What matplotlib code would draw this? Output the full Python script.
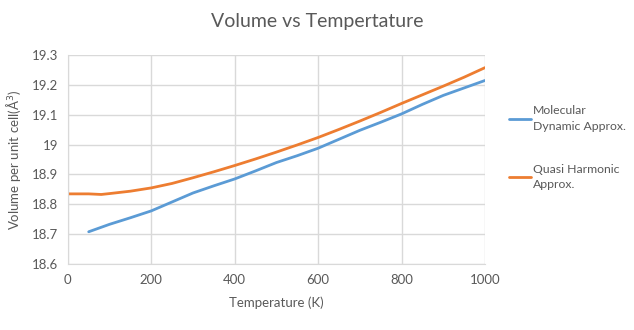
import matplotlib.pyplot as plt
import numpy as np

plt.rcParams['font.family'] = ['Lato', 'DejaVu Sans']

# temperatures (K)
temp_md = [50, 100, 150, 200, 250, 300, 350, 400, 450, 500, 550, 600,
           650, 700, 750, 800, 850, 900, 950, 1000]
vol_md = [18.708, 18.733, 18.755, 18.778, 18.808, 18.838, 18.862, 18.885,
          18.912, 18.940, 18.963, 18.988, 19.018, 19.048, 19.075, 19.103,
          19.135, 19.165, 19.190, 19.215]

temp_qh = [0, 50, 80, 100, 150, 200, 250, 300, 350, 400, 450, 500, 550,
           600, 650, 700, 750, 800, 850, 900, 950, 1000]
vol_qh = [18.835, 18.835, 18.833, 18.836, 18.844, 18.855, 18.870, 18.889,
          18.909, 18.930, 18.952, 18.975, 18.999, 19.024, 19.051, 19.079,
          19.108, 19.138, 19.167, 19.196, 19.226, 19.258]

x_ticks = [0, 200, 400, 600, 800, 1000]
y_ticks = [18.6, 18.7, 18.8, 18.9, 19.0, 19.1, 19.2, 19.3]
y_labels = ['18.6', '18.7', '18.8', '18.9', '19', '19.1', '19.2', '19.3']

blue = '#5b9bd5'
orange = '#ed7d31'
grid_col = '#d9d9d9'
text_col = '#595959'


def main():
    fig = plt.figure(figsize=(6.34, 3.3), dpi=100)
    ax = fig.add_axes([0.107, 0.2, 0.658, 0.633])

    l1, = ax.plot(temp_md, vol_md, color=blue, lw=2, solid_capstyle='round')
    l2, = ax.plot(temp_qh, vol_qh, color=orange, lw=2, solid_capstyle='round')

    ax.set_xlim(0, 1000)
    ax.set_ylim(18.6, 19.3)
    ax.set_xticks(x_ticks)
    ax.set_yticks(y_ticks)
    ax.set_yticklabels(y_labels)
    ax.grid(True, color=grid_col, lw=1)
    ax.set_axisbelow(True)
    for s in ax.spines.values():
        s.set_visible(False)
    ax.spines['left'].set_visible(True)
    ax.spines['bottom'].set_visible(True)
    ax.spines['left'].set_color(grid_col)
    ax.spines['bottom'].set_color(grid_col)
    ax.tick_params(length=0, labelsize=9.5, colors=text_col, pad=7)

    ax.set_xlabel('Temperature (K)', fontsize=9.5, color=text_col, labelpad=8)
    ax.set_ylabel('Volume per unit cell(Å$^3$)', fontsize=9.5, color=text_col,
                  labelpad=6)
    fig.text(0.5, 0.935, 'Volume vs Tempertature', ha='center', va='center',
             fontsize=14, color=text_col)

    leg = fig.legend([l1, l2],
                     ['Molecular\nDynamic Approx.', 'Quasi Harmonic\nApprox.'],
                     loc='center left', bbox_to_anchor=(0.803, 0.552),
                     frameon=False, fontsize=8.8, labelcolor=text_col,
                     handlelength=1.8, handletextpad=0.15, labelspacing=2.6,
                     borderaxespad=0, borderpad=0)
    for t in leg.get_texts():
        t.set_linespacing(1.5)

    fig.savefig('out.png', dpi=100)


if __name__ == "__main__":
    main()
